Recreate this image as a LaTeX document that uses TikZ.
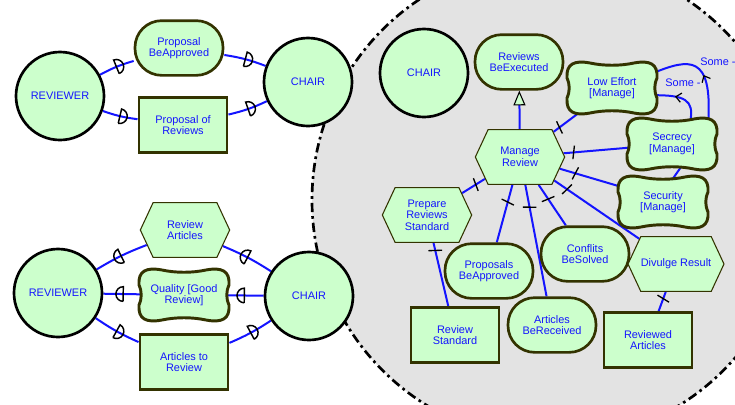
\documentclass[tikz,border=0pt]{standalone}
\usepackage{fontspec}
\setmainfont{Liberation Sans}
\usetikzlibrary{shapes.symbols,arrows.meta,decorations.markings}

\definecolor{goalfill}{RGB}{204,255,204}
\definecolor{edgeblue}{RGB}{20,20,255}
\definecolor{olivedark}{RGB}{51,51,0}
\definecolor{boundary}{RGB}{227,227,227}

\pgfdeclarelayer{bg}
\pgfdeclarelayer{edges}
\pgfsetlayers{bg,edges,main}

\tikzset{
  lbl/.style={text=edgeblue, font=\fontsize{8.2}{8.6}\selectfont, align=center, inner sep=0pt},
  actor/.style={lbl, circle, draw=black, line width=2pt, fill=goalfill, minimum size=66pt},
  goal/.style={lbl, rectangle, rounded corners=20pt, draw=olivedark, line width=2pt, fill=goalfill, minimum width=66pt, minimum height=41pt},
  resource/.style={lbl, rectangle, draw=olivedark, line width=2.2pt, fill=goalfill, minimum width=66pt, minimum height=41pt},
  task/.style={lbl, signal, signal to=east and west, signal pointer angle=130, draw=olivedark, line width=.8pt, fill=goalfill, minimum width=67pt, minimum height=41pt},
  softgoal/.style={lbl, rectangle, minimum width=61pt, minimum height=35pt},
  sgline/.style={draw=olivedark, line width=2.2pt, fill=goalfill},
  boundarycircle/.style={fill=boundary, draw=black, line width=2pt, dash pattern=on 7pt off 3pt on 2pt off 3pt},
  link/.style={draw=edgeblue, line width=1.5pt},
  depR/.style={postaction={decorate, decoration={markings, mark=at position .5 with {\draw[black, line width=1.1pt] (0pt,-5.5pt) -- (0pt,5.5pt) arc[start angle=90, end angle=-90, radius=5.5pt];}}}},
  depL/.style={postaction={decorate, decoration={markings, mark=at position .5 with {\draw[black, line width=1.1pt] (0pt,-5.5pt) -- (0pt,5.5pt) arc[start angle=90, end angle=270, radius=5.5pt];}}}},
  tick/.style={postaction={decorate, decoration={markings, mark=at position #1 with {\draw[black, line width=1pt] (-1pt,-5pt) -- (1pt,5pt);}}}},
  contrib/.style={postaction={decorate, decoration={markings, mark=at position #1 with {\arrow[black, line width=.9pt]{Straight Barb[length=4pt, width=7pt]}}}}},
  meansend/.style={link, -{Triangle[length=11pt, width=9pt, color=black, fill=goalfill, line width=.8pt]}}
}

\newcommand\softgoal[3]{%
  \draw[sgline, shift={#2}] (-22,-25) .. controls (-8,-22) and (8,-22) .. (22,-25)
    .. controls (38,-28) and (46,-24) .. (45,-10) .. controls (42,-3) and (42,3) .. (45,10)
    .. controls (46,24) and (38,28) .. (22,25) .. controls (8,22) and (-8,22) .. (-22,25)
    .. controls (-38,28) and (-46,24) .. (-45,10) .. controls (-42,3) and (-42,-3) .. (-45,-10)
    .. controls (-46,-24) and (-38,-28) .. (-22,-25) -- cycle;
  \node[softgoal] (#1) at #2 {#3};}

\begin{document}
\begin{tikzpicture}[x=0.75pt, y=-0.75pt]
\useasboundingbox (0,0) rectangle (735,404);

\begin{pgfonlayer}{bg}
\clip (0,0) rectangle (735,404);
\fill[white] (0,0) rectangle (735,404);
\draw[boundarycircle] (553,200) circle[radius=180.75pt];
\end{pgfonlayer}

% upper dependencies
\node[actor] (rev1) at (60,96) {REVIEWER};
\node[actor] (chair1) at (308,82) {CHAIR};
\node[goal] (pba1) at (179,48) {Proposal\\BeApproved};
\node[resource] (por) at (183,125) {Proposal of\\Reviews};

% lower dependencies
\node[actor] (rev2) at (58,293) {REVIEWER};
\node[actor] (chair2) at (309,296) {CHAIR};
\node[task] (ra) at (185,230) {Review\\Articles};
\softgoal{qual}{(184,295)}{Quality [Good\\Review]}
\node[resource] (atr) at (184,362) {Articles to\\Review};

% chair boundary
\node[actor] (chair3) at (424,73) {CHAIR};
\node[goal] (rbe) at (519,62) {Reviews\\BeExecuted};
\softgoal{le}{(612,88)}{Low Effort\\{[Manage]}}
\softgoal{sec}{(672,144)}{Secrecy\\{[Manage]}}
\softgoal{secu}{(663,202)}{Security\\{[Manage]}}
\node[task] (mr) at (520,157) {Manage\\Review};
\node[task] (prs) at (427,215) {Prepare\\Reviews\\Standard};
\node[goal] (pba2) at (489,271) {Proposals\\BeApproved};
\node[goal] (cbs) at (585,254) {Conflits\\BeSolved};
\node[task] (dr) at (676,264) {Divulge Result};
\node[resource] (rs) at (455,335) {Review\\Standard};
\node[goal] (abr) at (552,325) {Articles\\BeReceived};
\node[resource] (rva) at (648,340) {Reviewed\\Articles};
\node[lbl] (some1) at (683,83) {Some -};
\node[lbl, anchor=west] (some2) at (700,62) {Some -};

\begin{pgfonlayer}{edges}
\draw[link, depR] (rev1) to[bend left=6] (pba1);
\draw[link, depR] (pba1) to[bend left=6] (chair1);
\draw[link, depR] (rev1) to[bend right=6] (por);
\draw[link, depR] (por) to[bend right=6] (chair1);

\draw[link, depL] (rev2) to[bend left=5] (ra);
\draw[link, depL] (ra) to[bend left=5] (chair2);
\draw[link, depL] (rev2) -- (qual);
\draw[link, depL] (qual) -- (chair2);
\draw[link, depR] (rev2) to[bend right=5] (atr);
\draw[link, depR] (atr) to[bend right=5] (chair2);

\draw[meansend] (mr) -- (rbe);
\draw[link, tick=.22] (mr) -- (le);
\draw[link, tick=.15] (mr) -- (sec);
\draw[link, tick=.25] (mr) -- (secu.160);
\draw[link, tick=.15] (mr) -- (dr);
\draw[link, tick=.35] (mr) -- (cbs);
\draw[link, tick=.2] (mr) -- (abr);
\draw[link, tick=.3] (mr) -- (pba2);
\draw[link, tick=.4] (mr) -- (prs);
\draw[link, tick=.12] (prs) -- (rs);
\draw[link, tick=.35] (dr) -- (rva);
\draw[link] (sec.-70) -- (secu.67);
\draw[link, contrib=.6] (sec.52) .. controls (694,100) and (685,95) .. (le.-10);
\draw[link, contrib=.45] (sec.33) .. controls (712,55) and (690,58) .. (le.20);
\end{pgfonlayer}
\end{tikzpicture}
\end{document}
